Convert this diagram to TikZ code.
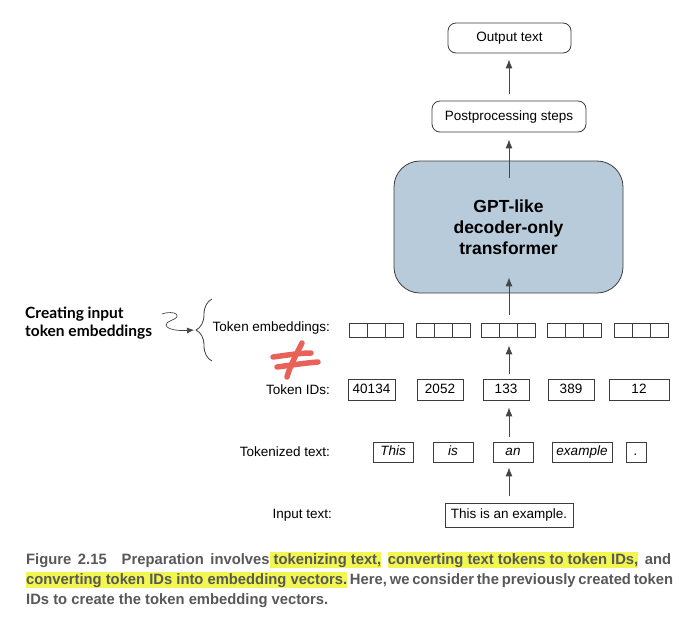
\documentclass[tikz,border=0pt]{standalone}
\usepackage{fontspec}
\setmainfont{Liberation Sans}
\newfontfamily\capfont[FakeStretch=0.985]{Liberation Sans}
\newfontfamily\latofont{Lato}
\usetikzlibrary{arrows.meta,decorations.pathreplacing,calc}
\definecolor{boxc}{RGB}{60,60,60}
\definecolor{linec}{RGB}{70,70,70}
\definecolor{gptfill}{RGB}{184,203,218}
\definecolor{redmark}{RGB}{232,98,90}
\definecolor{capgray}{RGB}{88,88,88}
\definecolor{hly}{RGB}{242,246,80}
\newcommand\hlt[1]{\begingroup\setlength\fboxsep{0pt}\colorbox{hly}{\rule[-4pt]{0pt}{16pt}#1}\endgroup}
\tikzset{
  lblfont/.style={font=\fontsize{13.5}{15}\selectfont},
  box/.style={draw=boxc, line width=0.8pt, inner sep=0pt, lblfont, text height=9.5pt, text depth=2.5pt},
  rbox/.style={box, rounded corners=8pt},
  ebox/.style={draw=boxc, line width=0.8pt, inner sep=0pt, minimum width=18, minimum height=14},
  idbox/.style={box, minimum height=21},
  tokbox/.style={box, minimum height=20, font=\fontsize{13.5}{15}\selectfont\itshape},
  lbl/.style={lblfont, inner sep=0pt, anchor=east},
  arr/.style={draw=linec, line width=0.9pt, -{Latex[length=9pt,width=7pt]}},
  capline/.style={anchor=base west, inner sep=0pt, text=capgray, font=\capfont\bfseries\fontsize{15}{20}\selectfont},
}
\begin{document}
\begin{tikzpicture}[x=1pt,y=-1pt]
\useasboundingbox (0,0) rectangle (680,616);
\coordinate (ax) at (509,0);
% top boxes
\node[rbox, minimum width=123, minimum height=30] (out) at (509.5,38) {Output text};
\node[rbox, minimum width=154, minimum height=31] (post) at (509,116.5) {Postprocessing steps};
\node[draw=boxc, fill=gptfill, line width=0.8pt, rounded corners=26pt, minimum width=229, minimum height=132, inner sep=0pt,
      align=center, font=\bfseries\fontsize{17.5}{21}\selectfont] (gpt) at (508.5,227) {GPT-like\\decoder-only\\transformer};
% embeddings
\foreach \g/\L in {1/349,2/416,3/481,4/547,5/614}
  \foreach \k in {0,1,2}
    \node[ebox] (e\g\k) at ({\L+9+18*\k},330) {};
% token ids
\node[idbox, minimum width=47] (id1) at (371.5,389.5) {40134};
\node[idbox, minimum width=46] (id2) at (440,389.5) {2052};
\node[idbox, minimum width=46] (id3) at (506,389.5) {133};
\node[idbox, minimum width=46] (id4) at (571,389.5) {389};
\node[idbox, minimum width=60] (id5) at (639,389.5) {12};
% tokens
\node[tokbox, minimum width=40] (tk1) at (393,452) {This};
\node[tokbox, minimum width=40] (tk2) at (453,452) {is};
\node[tokbox, minimum width=40] (tk3) at (513,452) {an};
\node[tokbox, minimum width=60] (tk4) at (582,452) {example};
\node[tokbox, minimum width=20] (tk5) at (636,452) {.};
% input
\node[box, minimum width=128, minimum height=24] (inp) at (509,515) {This is an example.};
% labels
\node[lbl] (lemb) at (330,328) {Token embeddings:};
\node[lbl] (lid) at (330,390) {Token IDs:};
\node[lbl] (ltok) at (330,452) {Tokenized text:};
\node[lbl] (linp) at (332,515) {Input text:};
% arrows
\draw[arr] ($(inp.north -| ax)+(0,-7)$) -- ($(tk3.south -| ax)+(0,5)$);
\draw[arr] ($(tk3.north -| ax)+(0,-5)$) -- ($(id3.south -| ax)+(0,7)$);
\draw[arr] ($(id3.north -| ax)+(0,-5)$) -- ($(e31.south -| ax)+(0,8)$);
\draw[arr] ($(e31.north -| ax)+(0,-8)$) -- ($(gpt.south -| ax)+(0,-16)$);
\draw[arr] ($(gpt.north -| ax)+(0,17)$) -- ($(post.south -| ax)+(0,7)$);
\draw[arr] ($(post.north -| ax)+(0,-7)$) -- ($(out.south -| ax)+(0,6)$);
% brace
\draw[boxc, line width=0.8pt, decorate, decoration={brace, amplitude=16pt, aspect=0.5}] (212,361) -- (212,299);
\coordinate (btip) at (194,330);
% creating label
\node[anchor=north west, inner sep=0pt, align=left, font=\latofont\bfseries\fontsize{15.5}{18}\selectfont] (cie) at (25,307) {Creating input\\token embeddings};
\coordinate (sq0) at (162,314);
\draw[linec, line width=0.7pt, -{Latex[length=7pt,width=6pt]}] (sq0) .. controls (170,311) and (179,313) .. (177,317)
   .. controls (175,320) and (166,321) .. (166,325) .. controls (167,330) and (180,331) .. (btip);
% red not-equal mark
\draw[redmark, line width=5.5pt, line cap=round] (273,357) .. controls (288,355) and (300,353) .. (311,353);
\draw[redmark, line width=5.5pt, line cap=round] (277,367) .. controls (292,365) and (305,363) .. (318,362);
\draw[redmark, line width=5.5pt, line cap=round] (302,343) .. controls (296,355) and (290,366) .. (287,377);
% caption
\node[capline] (cap1) at (26,564) {\hbox to 645pt{Figure 2.15\hspace{1em}Preparation involves\hlt{ tokenizing text,} \hlt{converting text tokens to token IDs,} and}};
\node[capline] (cap2) at (26,584) {\hbox to 647pt{\hlt{converting token IDs into embedding vectors.} Here, we consider the previously created token}};
\node[capline] (cap3) at (26,604) {IDs to create the token embedding vectors.};
\end{tikzpicture}
\end{document}
